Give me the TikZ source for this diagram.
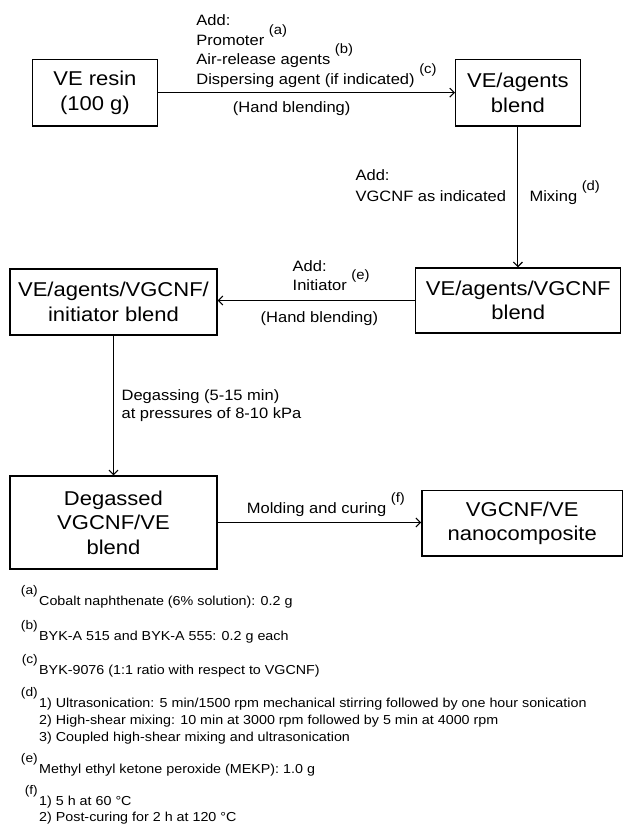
\documentclass[tikz,border=0pt]{standalone}
\usepackage{fontspec}
\setmainfont[FakeStretch=1.1]{Liberation Sans}
\usetikzlibrary{arrows.meta}
\newcommand{\lsup}[1]{\raisebox{11pt}{\fontsize{13.5}{13.5}\selectfont #1}}
\begin{document}
\begin{tikzpicture}[x=1pt,y=-1pt,
  box/.style={draw, line width=1.3pt, inner sep=0pt, align=center,
    font=\fontsize{20}{24.5}\selectfont},
  lbl/.style={inner sep=0pt, font=\fontsize{15}{18}\selectfont},
  fn/.style={inner sep=0pt, font=\fontsize{13}{15}\selectfont},
  fnsup/.style={inner sep=0pt, font=\fontsize{12.5}{12.5}\selectfont, anchor=base east},
  arr/.style={line width=1.1pt, -{Straight Barb[length=4.5pt,width=9pt]}}]
\useasboundingbox (0,0) rectangle (624,824);
% boxes
\node[box, minimum width=124.6pt, minimum height=66.7pt] (resin) at (94.9,92.65) {VE resin\\(100 g)};
\node[box, minimum width=124.6pt, minimum height=66.7pt] (agents) at (517.9,92.65) {VE/agents\\blend};
\node[box, minimum width=205pt, minimum height=65pt] (vgcnf) at (518.3,300.5) {VE/agents/VGCNF\\blend};
\node[box, minimum width=206.9pt, minimum height=66pt] (init) at (113.45,302) {VE/agents/VGCNF/\\initiator blend};
\node[box, minimum width=206.9pt, minimum height=93pt] (degas) at (113.45,522.5) {Degassed\\VGCNF/VE\\blend};
\node[box, minimum width=200.7pt, minimum height=65.3pt] (nano) at (522.2,523.3) {VGCNF/VE\\nanocomposite};
% connectors
\draw[arr] (resin.east) -- (agents.west);
\draw[arr] (agents.south) -- (agents.south |- vgcnf.north);
\draw[arr] (vgcnf.west) -- (vgcnf.west -| init.east);
\draw[arr] (init.south) -- (init.south |- degas.north);
\draw[arr] (degas.east) -- (degas.east -| nano.west);
% labels top
\node[lbl, anchor=base west] (t1) at (196.2,26) {Add:};
\node[lbl, anchor=base west] (t2) at (196.2,45.5) {Promoter \lsup{(a)}};
\node[lbl, anchor=base west] (t3) at (196.2,65) {Air-release agents \lsup{(b)}};
\node[lbl, anchor=base west] (t4) at (196.2,85) {Dispersing agent (if indicated) \lsup{(c)}};
\node[lbl, anchor=base] (t5) at (291.7,113) {(Hand blending)};
% labels vertical 1
\node[lbl, anchor=base west] (v1) at (355.4,180) {Add:};
\node[lbl, anchor=base west] (v2) at (355.4,201.7) {VGCNF as indicated};
\node[lbl, anchor=base west] (v3) at (529.3,201.7) {Mixing \lsup{(d)}};
% labels initiator
\node[lbl, anchor=base west] (i1) at (292.5,271.7) {Add:};
\node[lbl, anchor=base west] (i2) at (292.5,290.7) {Initiator \lsup{(e)}};
\node[lbl, anchor=base] (i3) at (319.4,322) {(Hand blending)};
% labels degassing
\node[lbl, anchor=base west] (d1) at (121.4,400) {Degassing (5-15 min)};
\node[lbl, anchor=base west] (d2) at (121.4,418) {at pressures of 8-10 kPa};
% labels molding
\node[lbl, anchor=base west] (m1) at (246.7,513) {Molding and curing \lsup{(f)}};
% footnotes
\node[fnsup] (sa) at (38,594.5) {(a)};
\node[fn, anchor=base west] (na) at (39,605.5) {Cobalt naphthenate (6\% solution): 0.2 g};
\node[fnsup] (sb) at (38,629) {(b)};
\node[fn, anchor=base west] (nb) at (39,640) {BYK-A 515 and BYK-A 555: 0.2 g each};
\node[fnsup] (sc) at (38,663) {(c)};
\node[fn, anchor=base west] (nc) at (39,674) {BYK-9076 (1:1 ratio with respect to VGCNF)};
\node[fnsup] (sd) at (38,696) {(d)};
\node[fn, anchor=base west] (nd1) at (39,707) {1) Ultrasonication: 5 min/1500 rpm mechanical stirring followed by one hour sonication};
\node[fn, anchor=base west] (nd2) at (39,724) {2) High-shear mixing: 10 min at 3000 rpm followed by 5 min at 4000 rpm};
\node[fn, anchor=base west] (nd3) at (39,741) {3) Coupled high-shear mixing and ultrasonication};
\node[fnsup] (se) at (38,762) {(e)};
\node[fn, anchor=base west] (ne) at (39,773) {Methyl ethyl ketone peroxide (MEKP): 1.0 g};
\node[fnsup] (sf) at (38,794.5) {(f)};
\node[fn, anchor=base west] (nf1) at (39,805) {1) 5 h at 60 °C};
\node[fn, anchor=base west] (nf2) at (39,821) {2) Post-curing for 2 h at 120 °C};
\end{tikzpicture}
\end{document}
